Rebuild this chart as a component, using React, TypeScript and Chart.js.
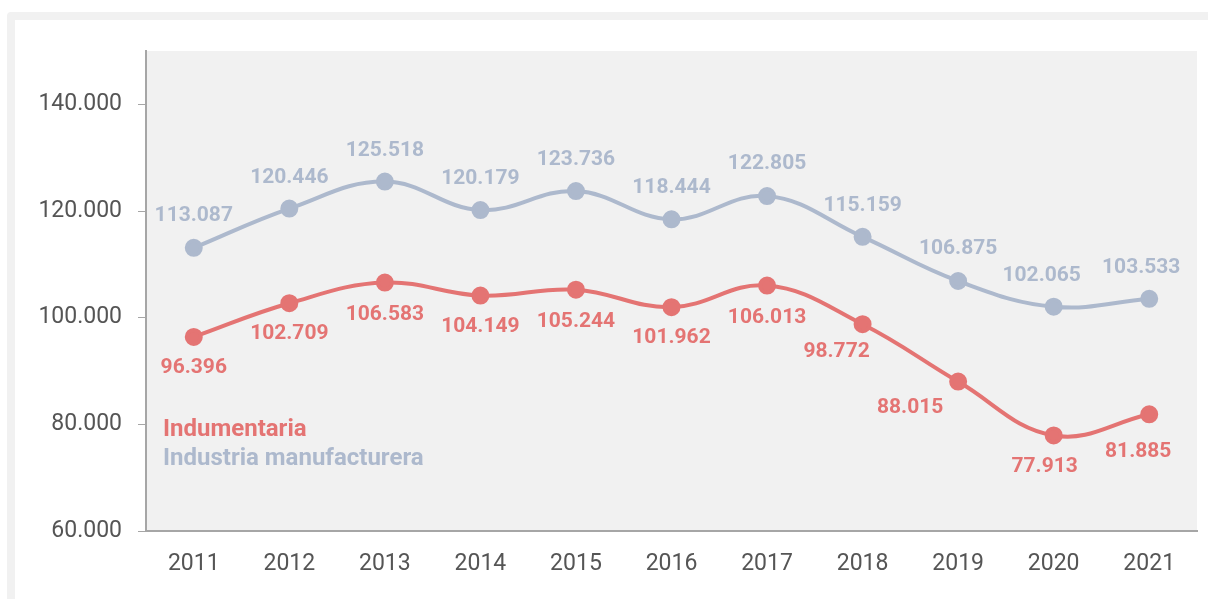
import React, { useEffect, useRef } from "react";
import { Chart, registerables } from "chart.js";

Chart.register(...registerables);

const years = ["2011", "2012", "2013", "2014", "2015", "2016", "2017", "2018", "2019", "2020", "2021"];
const indumentaria = [96396, 102709, 106583, 104149, 105244, 101962, 106013, 98772, 88015, 77913, 81885];
const manufacturera = [113087, 120446, 125518, 120179, 123736, 118444, 122805, 115159, 106875, 102065, 103533];
const yTicks = [60000, 80000, 100000, 120000, 140000];
const seriesNames = ["Indumentaria", "Industria manufacturera"];

const RED = "#e47473";
const BLUE = "#adb9cd";
const FONT = "Roboto, 'Noto Sans', sans-serif";

// label placement tweaks (relative to each point), per series
const labelShift: { dx: number[]; dy: number[] }[] = [
  { dx: [0, 0, 0, 0, 0, 0, 0, -26, -48, -9, -11], dy: [31, 31, 32, 31, 32, 31, 32, 28, 26, 31, 37] },
  { dx: [0, 0, 0, 0, 0, 0, 0, 0, 0, -12, -8], dy: [-32, -31, -31, -31, -31, -32, -32, -31, -32, -31, -31] },
];

const fmt = (v: number) => {
  const s = Math.round(v).toString();
  return s.replace(/\B(?=(\d{3})+(?!\d))/g, ".");
};

const bgPlugin = {
  id: "bgPlugin",
  beforeDraw(chart: any) {
    const { ctx, chartArea } = chart;
    ctx.save();
    ctx.fillStyle = "#f1f1f1";
    ctx.fillRect(chartArea.left, chartArea.top, chartArea.right - chartArea.left, chartArea.bottom - chartArea.top);
    ctx.restore();
  },
};

const labelPlugin = {
  id: "labelPlugin",
  afterDatasetsDraw(chart: any) {
    const { ctx, chartArea } = chart;
    ctx.save();
    ctx.font = `bold 21px ${FONT}`;
    ctx.textAlign = "center";
    ctx.textBaseline = "middle";
    chart.data.datasets.forEach((ds: any, i: number) => {
      const meta = chart.getDatasetMeta(i);
      ctx.fillStyle = ds.borderColor;
      meta.data.forEach((pt: any, j: number) => {
        ctx.fillText(fmt(ds.data[j]), pt.x + labelShift[i].dx[j], pt.y + labelShift[i].dy[j]);
      });
    });
    // legend
    ctx.font = `bold 24px ${FONT}`;
    ctx.textAlign = "left";
    ctx.fillStyle = RED;
    ctx.fillText(seriesNames[0], chartArea.left + 17, chartArea.bottom - 101);
    ctx.fillStyle = BLUE;
    ctx.fillText(seriesNames[1], chartArea.left + 17, chartArea.bottom - 72);
    ctx.restore();
  },
};

export default function App() {
  const ref = useRef<HTMLCanvasElement>(null);
  useEffect(() => {
    document.body.style.margin = "0";
    document.body.style.overflow = "hidden";
    const chart = new Chart(ref.current!, {
      type: "line",
      data: {
        labels: years,
        datasets: [
          {
            label: seriesNames[0],
            data: indumentaria,
            borderColor: RED,
            backgroundColor: RED,
            borderWidth: 4,
            pointRadius: 7,
            pointHoverRadius: 7,
            tension: 0.4,
          },
          {
            label: seriesNames[1],
            data: manufacturera,
            borderColor: BLUE,
            backgroundColor: BLUE,
            borderWidth: 4,
            pointRadius: 7,
            pointHoverRadius: 7,
            tension: 0.4,
          },
        ],
      },
      options: {
        animation: false,
        responsive: false,
        layout: { padding: { top: 51, right: 8, left: 0, bottom: 0 } },
        plugins: { legend: { display: false }, tooltip: { enabled: false } },
        scales: {
          x: {
            offset: true,
            grid: { display: false, drawTicks: false },
            border: { display: true, color: "#a6a6a6", width: 2 },
            ticks: { color: "#555", font: { family: FONT, size: 23 }, padding: 19 },
            afterFit: (s: any) => { s.height = 68; },
          },
          y: {
            min: 60000,
            max: 150000,
            ticks: {
              color: "#555",
              font: { family: FONT, size: 23 },
              padding: 16,
              callback: (v: any) => fmt(Number(v)),
            },
            afterBuildTicks: (s: any) => { s.ticks = yTicks.map((v) => ({ value: v })); },
            grid: { drawOnChartArea: false, drawTicks: true, tickLength: 8, color: "#a6a6a6", lineWidth: 1 },
            border: { display: true, color: "#a6a6a6", width: 2 },
            afterFit: (s: any) => { s.width = 146; },
          },
        },
      },
      plugins: [bgPlugin, labelPlugin],
    });
    return () => chart.destroy();
  }, []);
  return (
    <div style={{ position: "relative", width: 1208, height: 599, overflow: "hidden", background: "#fff" }}>
      <div
        style={{
          position: "absolute",
          left: 7,
          top: 12,
          width: 1230,
          height: 620,
          border: "8px solid #f1f1f1",
          borderRadius: 4,
          background: "#fff",
        }}
      />
      <canvas ref={ref} width={1208} height={599} style={{ position: "absolute", left: 0, top: 0 }} />
    </div>
  );
}
